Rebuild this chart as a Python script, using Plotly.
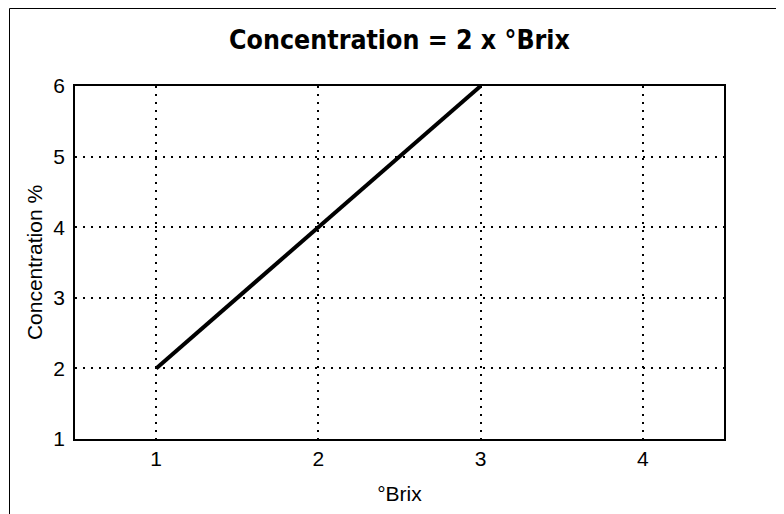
import plotly.graph_objects as go

brix = [1, 2, 3]
concentration = [2, 4, 6]
x_ticks = [1, 2, 3, 4]
y_ticks = [1, 2, 3, 4, 5, 6]

fig = go.Figure()
fig.add_trace(go.Scatter(x=brix, y=concentration, mode="lines",
                         line=dict(color="black", width=4), showlegend=False))

# page body has an 8px margin; figure sized to fit in the window
OFF = 8
W, H = 776, 506
ml, mt = 75 - OFF, 86 - OFF
mr = W - (724 - OFF)
mb = H - (439 - OFF)
pw, ph = W - ml - mr, H - mt - mb

def px_to_paper_x(px):
    return (px - ml) / pw

def px_to_paper_y(py):
    return 1 - (py - mt) / ph

fig.add_shape(type="rect", xref="paper", yref="paper",
              x0=px_to_paper_x(1.5), x1=px_to_paper_x(W + 20),
              y0=px_to_paper_y(H + 20), y1=px_to_paper_y(0.5),
              line=dict(color="black", width=1), fillcolor="rgba(0,0,0,0)", layer="above")

tick_font = dict(family="Liberation Sans, Arial", size=21, color="black")
axis_common = dict(showline=True, linecolor="black", linewidth=1.5, mirror=True,
                   showgrid=True, gridcolor="black", gridwidth=1.5, griddash="1.5px,6.5px",
                   zeroline=False, ticks="", tickfont=tick_font)

fig.update_xaxes(range=[0.5, 4.5], tickvals=x_ticks, ticklabelstandoff=0,
                 title=dict(text="°Brix", font=tick_font, standoff=17),
                 **axis_common)
fig.update_yaxes(range=[1, 6], tickvals=y_ticks, ticklabelstandoff=4,
                 title=dict(text="Concentration %", font=tick_font, standoff=5),
                 **axis_common)

fig.update_layout(
    width=W, height=H,
    margin=dict(l=ml, r=mr, t=mt, b=mb),
    paper_bgcolor="white", plot_bgcolor="white",
    title=dict(text="<b>Concentration = 2 x °Brix</b>", x=(ml + pw / 2) / W, xanchor="center",
               y=1 - (40 - OFF) / H, yanchor="middle",
               font=dict(family="DejaVu Sans Condensed", size=26.5, color="black")),
)

fig.write_html("out.html")
